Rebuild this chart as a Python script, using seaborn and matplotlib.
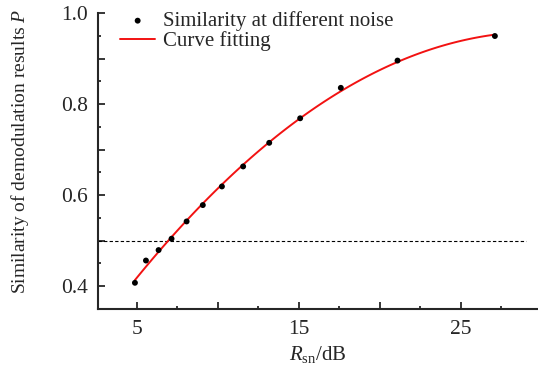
import numpy as np
import pandas as pd
import seaborn as sns
import matplotlib
matplotlib.use("Agg")
import matplotlib.pyplot as plt
from matplotlib.ticker import FixedLocator, FuncFormatter

# Measured similarity of demodulation results at each noise level
snr_db = [4.88, 5.56, 6.34, 7.14, 8.07, 9.07, 10.25, 11.56, 13.17, 15.08, 17.59, 21.09, 27.1]
similarity = [0.407, 0.456, 0.479, 0.504, 0.542, 0.578, 0.619, 0.663, 0.715, 0.769, 0.836, 0.896, 0.950]

threshold = 0.5
threshold_span = [2.6, 29.0]

x_major = [5, 10, 15, 20, 25]
x_minor = [2.5, 7.5, 12.5, 17.5, 22.5, 27.5]
x_labels = {5: "5", 15: "15", 25: "25"}
y_major = [0.4, 0.5, 0.6, 0.7, 0.8, 0.9, 1.0]
y_minor = [0.45, 0.55, 0.65, 0.75, 0.85, 0.95]
y_labels = {0.4: "0.4", 0.6: "0.6", 0.8: "0.8", 1.0: "1.0"}

df = pd.DataFrame({"snr": snr_db, "sim": similarity})

sns.set_style("ticks")
plt.rcParams["font.family"] = ["Liberation Serif", "DejaVu Serif"]
plt.rcParams["mathtext.fontset"] = "custom"
plt.rcParams["mathtext.rm"] = "Liberation Serif"
plt.rcParams["mathtext.it"] = "Liberation Serif:italic"

fig = plt.figure(figsize=(5.38, 3.67), dpi=100)
ax = fig.add_axes([98 / 538, 1 - 308.7 / 367, 439 / 538, (308.7 - 13.3) / 367])

# 0.5 similarity reference line
sns.lineplot(x=threshold_span, y=[threshold, threshold], ax=ax, color="black",
             lw=0.8, dashes=False, linestyle=(0, (3, 2)), zorder=1)

# second-order fit through the measurements
sns.regplot(data=df, x="snr", y="sim", order=2, ci=None, scatter=False, ax=ax,
            line_kws=dict(color="#f21212", lw=1.4, zorder=2))
fit_line = ax.lines[-1]
fit_line.set_label("Curve fitting")

pts = ax.scatter(df["snr"], df["sim"], color="black", s=18, edgecolor="none", zorder=3,
                 label="Similarity at different noise")

ax.set_xlim(2.6, 29.7)
ax.set_ylim(0.35, 1.0)

ax.xaxis.set_major_locator(FixedLocator(x_major))
ax.xaxis.set_minor_locator(FixedLocator(x_minor))
ax.yaxis.set_major_locator(FixedLocator(y_major))
ax.yaxis.set_minor_locator(FixedLocator(y_minor))
ax.xaxis.set_major_formatter(FuncFormatter(lambda v, p: x_labels.get(int(round(v)), "")))
ax.yaxis.set_major_formatter(FuncFormatter(lambda v, p: y_labels.get(round(v, 1), "")))

ax.tick_params(which="major", direction="in", length=5, width=1.3, labelsize=15.5)
ax.tick_params(axis="y", which="major", pad=7)
ax.tick_params(axis="x", which="major", pad=8)
ax.tick_params(which="minor", direction="in", length=2.5, width=1.3)

sns.despine(ax=ax)
for s in ("left", "bottom"):
    ax.spines[s].set_linewidth(1.5)

ax.set_xlabel(r"$R_{\rm sn}$/dB", fontsize=15, labelpad=4)
ax.set_ylabel(r"Similarity of demodulation results $P$", fontsize=14)
ax.yaxis.set_label_coords(-0.152, 0.532)

ax.legend([pts, fit_line], ["Similarity at different noise", "Curve fitting"],
          loc="upper left", bbox_to_anchor=(0.05, 1.007), frameon=False, fontsize=15,
          handlelength=1.7, handletextpad=0.38, labelspacing=0.0, borderaxespad=0,
          borderpad=0)

fig.savefig("out.png", dpi=100)
